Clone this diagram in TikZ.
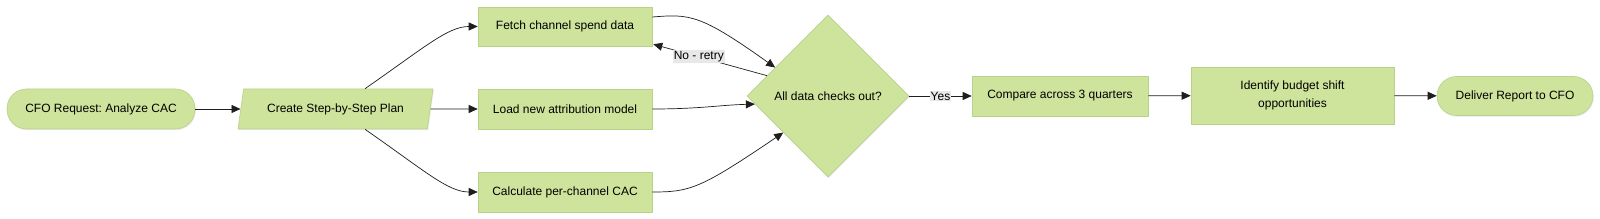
\documentclass[tikz,border=0pt]{standalone}
\usepackage{fontspec}
\setmainfont{Liberation Sans}
\frenchspacing
\usetikzlibrary{shapes.geometric,arrows.meta,calc,shadows}
\definecolor{nodefill}{RGB}{206,227,155}
\definecolor{nodeedge}{RGB}{186,209,137}
\definecolor{lblfill}{RGB}{232,232,232}
\definecolor{edgecol}{RGB}{30,30,30}
\begin{document}
\begin{tikzpicture}[x=1pt,y=1pt,
  font=\fontsize{12}{18}\selectfont,
  base/.style={fill=nodefill, draw=nodeedge, line width=0.6pt, drop shadow={opacity=0.15, shadow xshift=0.8pt, shadow yshift=-1.2pt}, inner sep=0pt, align=center},
  box/.style={base, rectangle},
  pill/.style={base, rectangle, rounded corners=19.5pt},
  para/.style={base, trapezium, trapezium left angle=63.4, trapezium right angle=116.6, minimum height=40pt, minimum width=195pt, trapezium stretches body},
  decision/.style={base, diamond, minimum width=162pt, minimum height=162pt},
  conn/.style={draw=edgecol, line width=0.7pt, -{Triangle[length=9pt,width=8pt]}},
  lbl/.style={fill=lblfill, inner sep=1pt, text=black}
]
\fill[white] (0,0) rectangle (1600,219);
\useasboundingbox (0,0) rectangle (1600,219);

\node[pill, minimum width=188pt, minimum height=40pt] (cfo) at (101,110) {CFO Request: Analyze CAC};
\node[para] (plan) at (335.5,110) {Create Step-by-Step Plan};
\node[box, minimum width=174pt, minimum height=39pt] (fetch) at (565,192.5) {Fetch channel spend data};
\node[box, minimum width=174pt, minimum height=40pt] (load) at (565,110) {Load new attribution model};
\node[box, minimum width=174pt, minimum height=40pt] (calc) at (565,27) {Calculate per-channel CAC};
\node[decision] (dia) at (828,123) {All data checks out?};
\node[box, minimum width=176pt, minimum height=40pt] (cmp) at (1060,123) {Compare across 3 quarters};
\node[box, minimum width=203pt, minimum height=57pt] (ident) at (1292.5,123.5) {Identify budget shift\\opportunities};
\node[pill, minimum width=156pt, minimum height=39pt] (deliver) at (1515,123) {Deliver Report to CFO};

\draw[conn] (cfo) -- (plan);
\draw[conn] ($(plan.north)+(29.5,0)$) .. controls (425,172) and (448,192.5) .. (fetch.west);
\draw[conn] (plan) -- (load);
\draw[conn] ($(plan.south)+(29.5,0)$) .. controls (425,48) and (448,27) .. (calc.west);
\draw[conn] ($(fetch.east)+(0,9.5)$) .. controls (690,205) and (700,205) .. ($(dia.west)!0.35!(dia.north)$);
\draw[conn] (load.east) .. controls (700,110) and (720,114) .. ($(dia.west)!0.1!(dia.south)$);
\draw[conn] (calc.east) .. controls (690,27) and (700,30) .. ($(dia.west)!0.45!(dia.south)$);
\draw[conn] ($(dia.west)!0.25!(dia.north)$) -- node[lbl, pos=0.6] {No - retry} ($(fetch.south east)+(1,2)$);
\draw[conn] (dia) -- node[lbl] {Yes} (cmp);
\draw[conn] (cmp) -- (ident);
\draw[conn] (ident) -- (deliver);
\end{tikzpicture}
\end{document}
